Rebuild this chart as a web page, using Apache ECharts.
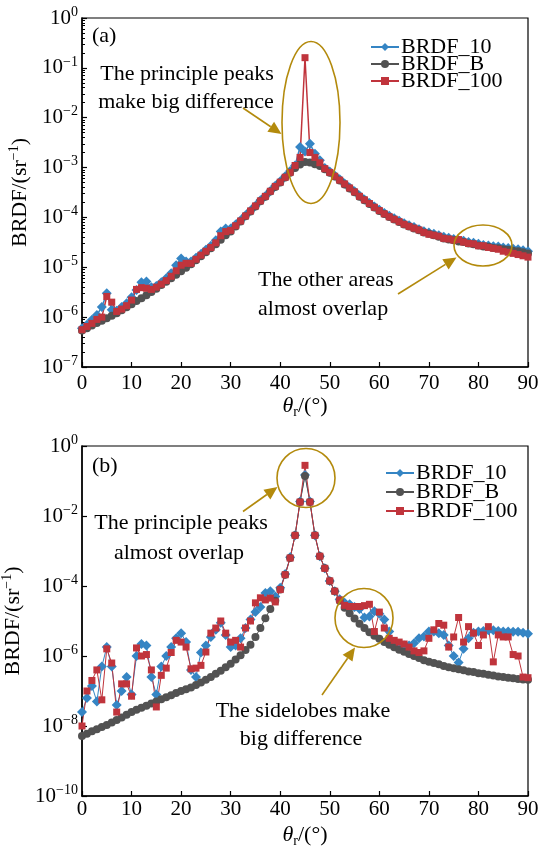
<!DOCTYPE html>
<html><head><meta charset="utf-8">
<script src="https://cdn.jsdelivr.net/npm/echarts@6/dist/echarts.min.js"></script>
<style>html,body{margin:0;padding:0;background:#fff}#c{width:541px;height:846px}</style>
</head><body><div id="c"></div>
<script>
// ---------------- data ----------------
const theta = [0,1,2,3,4,5,6,7,8,9,10,11,12,13,14,15,16,17,18,19,20,21,22,23,24,25,26,27,28,29,30,31,32,33,34,35,36,37,38,39,40,41,42,43,44,45,46,47,48,49,50,51,52,53,54,55,56,57,58,59,60,61,62,63,64,65,66,67,68,69,70,71,72,73,74,75,76,77,78,79,80,81,82,83,84,85,86,87,88,89,90];
const seriesNames = ['BRDF_10', 'BRDF_B', 'BRDF_100'];
const yTicksA = [1e-7,1e-6,1e-5,1e-4,1e-3,1e-2,1e-1,1];
const yTicksB = [1e-10,1e-8,1e-6,1e-4,1e-2,1];

// panel (a)
const a_brdf10 = [6.0e-7,7.0e-7,8.9e-7,1.1e-6,1.6e-6,3.0e-6,1.4e-6,1.35e-6,1.6e-6,1.9e-6,2.5e-6,3.5e-6,5.0e-6,5.2e-6,4.0e-6,4.2e-6,5.0e-6,6.0e-6,7.6e-6,1.1e-5,1.5e-5,1.3e-5,1.3e-5,1.55e-5,1.85e-5,2.25e-5,2.7e-5,3.5e-5,5.2e-5,6.0e-5,6.0e-5,7.2e-5,8.8e-5,1.1e-4,1.38e-4,1.72e-4,2.2e-4,2.7e-4,3.4e-4,4.3e-4,5.3e-4,6.7e-4,8.5e-4,1.1e-3,2.6e-3,2.1e-3,3.0e-3,1.9e-3,1.4e-3,9.8e-4,8.3e-4,6.9e-4,5.8e-4,4.8e-4,4.0e-4,3.35e-4,2.75e-4,2.3e-4,1.95e-4,1.66e-4,1.42e-4,1.23e-4,1.08e-4,9.6e-5,8.6e-5,7.6e-5,7.0e-5,6.4e-5,5.8e-5,5.3e-5,5.0e-5,4.7e-5,4.4e-5,4.1e-5,3.9e-5,3.7e-5,3.5e-5,3.4e-5,3.2e-5,3.1e-5,2.95e-5,2.8e-5,2.75e-5,2.65e-5,2.6e-5,2.5e-5,2.45e-5,2.35e-5,2.3e-5,2.2e-5,2.1e-5];
const a_brdfB = [5.4e-7,6.0e-7,6.8e-7,7.6e-7,8.5e-7,9.5e-7,1.07e-6,1.2e-6,1.38e-6,1.58e-6,1.82e-6,2.1e-6,2.4e-6,2.75e-6,3.2e-6,3.7e-6,4.4e-6,5.1e-6,6.0e-6,7.1e-6,8.3e-6,9.8e-6,1.15e-5,1.38e-5,1.66e-5,2.0e-5,2.4e-5,2.9e-5,3.55e-5,4.4e-5,5.2e-5,6.6e-5,8.3e-5,1.05e-4,1.32e-4,1.66e-4,2.1e-4,2.6e-4,3.3e-4,4.1e-4,5.0e-4,6.3e-4,7.9e-4,9.8e-4,1.15e-3,1.29e-3,1.26e-3,1.17e-3,1.07e-3,9.3e-4,7.9e-4,6.6e-4,5.5e-4,4.6e-4,3.8e-4,3.2e-4,2.6e-4,2.2e-4,1.86e-4,1.58e-4,1.35e-4,1.17e-4,1.02e-4,9.1e-5,8.1e-5,7.2e-5,6.6e-5,6.0e-5,5.5e-5,5.0e-5,4.7e-5,4.4e-5,4.1e-5,3.8e-5,3.6e-5,3.5e-5,3.3e-5,3.2e-5,3.0e-5,2.9e-5,2.75e-5,2.6e-5,2.57e-5,2.45e-5,2.4e-5,2.3e-5,2.24e-5,2.14e-5,2.1e-5,2.0e-5,1.9e-5];
const a_brdf100 = [5.6e-7,6.5e-7,7.5e-7,9.0e-7,1.0e-6,2.6e-6,2.0e-6,1.3e-6,1.45e-6,1.7e-6,2.2e-6,3.6e-6,3.9e-6,3.8e-6,3.6e-6,4.0e-6,4.6e-6,5.4e-6,6.6e-6,8.5e-6,1.1e-5,1.2e-5,1.2e-5,1.45e-5,1.75e-5,2.1e-5,2.5e-5,3.1e-5,4.3e-5,5.2e-5,5.5e-5,6.8e-5,8.5e-5,1.07e-4,1.35e-4,1.7e-4,2.15e-4,2.65e-4,3.35e-4,4.2e-4,5.1e-4,6.4e-4,8.0e-4,1.1e-3,1.6e-3,1.6e-1,2.0e-3,1.6e-3,1.25e-3,9.5e-4,8.0e-4,6.7e-4,5.6e-4,4.7e-4,3.9e-4,3.25e-4,2.65e-4,2.25e-4,1.9e-4,1.6e-4,1.37e-4,1.18e-4,1.03e-4,9.2e-5,8.2e-5,7.3e-5,6.6e-5,6.1e-5,5.6e-5,5.0e-5,4.6e-5,4.4e-5,4.2e-5,3.8e-5,3.7e-5,3.5e-5,3.6e-5,3.2e-5,3.0e-5,2.95e-5,2.7e-5,2.7e-5,2.5e-5,2.4e-5,2.3e-5,2.1e-5,2.0e-5,1.9e-5,1.8e-5,1.7e-5,1.6e-5];

// panel (b)
const b_brdf10 = [2.5e-8,6.3e-8,1.4e-7,5.0e-8,5.0e-7,1.8e-6,5.0e-7,4.0e-8,1.0e-7,2.5e-7,8.0e-8,1.0e-6,2.2e-6,2.0e-6,2.5e-7,8.0e-8,5.0e-7,1.0e-6,1.8e-6,3.2e-6,4.5e-6,2.5e-6,4.0e-7,2.5e-7,1.26e-6,2.0e-6,3.5e-6,5.6e-6,8.9e-6,4.0e-6,1.8e-6,2.0e-6,3.2e-6,6.3e-6,1.1e-5,1.8e-5,2.5e-5,6.3e-5,7.1e-5,5.0e-5,8.9e-5,2.2e-4,6.6e-4,2.8e-3,2.6e-2,1.48e-1,2.6e-2,2.8e-3,7.1e-4,3.2e-4,1.4e-4,7.1e-5,4.2e-5,3.3e-5,3.0e-5,2.5e-5,2.2e-5,1.26e-5,1.35e-5,1.9e-5,1.6e-5,1.1e-5,5.0e-6,2.5e-6,2.2e-6,2.0e-6,2.0e-6,2.3e-6,3.2e-6,3.6e-6,5.0e-6,5.0e-6,4.5e-6,4.0e-6,2.0e-6,1.0e-6,6.5e-7,1.6e-6,3.2e-6,4.6e-6,5.0e-6,5.2e-6,5.4e-6,5.4e-6,5.2e-6,5.0e-6,5.0e-6,4.9e-6,4.9e-6,4.6e-6,4.3e-6];
const b_brdfB = [5.2e-9,6.0e-9,7.1e-9,8.1e-9,9.3e-9,1.07e-8,1.26e-8,1.48e-8,1.74e-8,2.1e-8,2.5e-8,2.9e-8,3.3e-8,3.8e-8,4.4e-8,5.0e-8,5.8e-8,6.6e-8,7.6e-8,8.7e-8,1.0e-7,1.12e-7,1.26e-7,1.48e-7,1.74e-7,2.1e-7,2.5e-7,3.1e-7,3.8e-7,4.8e-7,6.0e-7,7.9e-7,1.05e-6,1.48e-6,2.1e-6,3.5e-6,6.3e-6,1.2e-5,2.2e-5,3.8e-5,7.9e-5,2.1e-4,6.3e-4,2.8e-3,2.5e-2,1.4e-1,2.5e-2,2.8e-3,7.1e-4,3.2e-4,1.4e-4,7.1e-5,3.8e-5,2.4e-5,1.66e-5,1.17e-5,8.3e-6,6.3e-6,4.8e-6,3.8e-6,3.1e-6,2.5e-6,2.1e-6,1.78e-6,1.51e-6,1.32e-6,1.15e-6,1.0e-6,8.7e-7,7.6e-7,6.9e-7,6.3e-7,5.8e-7,5.2e-7,4.8e-7,4.5e-7,4.2e-7,3.9e-7,3.6e-7,3.5e-7,3.2e-7,3.1e-7,2.9e-7,2.75e-7,2.6e-7,2.5e-7,2.4e-7,2.3e-7,2.2e-7,2.14e-7,2.1e-7];
const b_brdf100 = [1.0e-8,1.0e-7,2.0e-7,4.0e-7,5.6e-8,1.6e-6,6.3e-7,2.5e-8,1.6e-7,1.6e-7,7.1e-8,1.7e-6,1.0e-6,1.1e-6,4.0e-7,3.5e-8,2.8e-7,4.5e-7,1.26e-6,2.8e-6,2.5e-6,1.8e-6,4.3e-7,4.5e-7,5.4e-7,1.3e-6,4.5e-6,6.3e-6,1.0e-5,4.5e-6,2.5e-6,2.8e-6,1.8e-6,6.3e-6,1.0e-5,3.3e-5,4.6e-5,4.0e-5,4.5e-5,3.5e-5,7.9e-5,2.1e-4,6.3e-4,2.8e-3,2.5e-2,2.8e-1,2.5e-2,2.8e-3,7.1e-4,3.2e-4,1.4e-4,7.1e-5,4.0e-5,2.8e-5,2.6e-5,2.6e-5,2.6e-5,2.75e-5,3.0e-5,5.0e-6,1.8e-5,6.3e-6,3.2e-6,2.8e-6,2.5e-6,2.2e-6,1.8e-6,1.4e-6,1.26e-6,1.4e-6,3.2e-6,5.6e-6,8.5e-6,7.6e-6,1.8e-6,3.5e-6,1.26e-5,2.5e-6,6.9e-6,4.5e-6,2.0e-6,4.0e-6,6.9e-6,6.8e-7,4.0e-6,3.5e-6,3.5e-6,1.1e-6,1.0e-6,2.5e-7,2.4e-7];

// ---------------- styling ----------------
const FONT = '"Liberation Serif", "Times New Roman", serif';
const C_BLUE = '#3585c4', C_GREY = '#525252', C_RED = '#c0343c', C_ANN = '#b38a0c';

function pairs(vals){ return theta.map((t,i)=>[t, vals[i]]); }
function expLabel(v){ const e = Math.round(Math.log10(v)); return '{b|10}{s|' + (e < 0 ? '\u2212' + (-e) : e) + '}'; }
const labRich = {
  b: {fontFamily: FONT, fontSize: 21, color: '#000', lineHeight: 26},
  s: {fontFamily: FONT, fontSize: 14, color: '#000', verticalAlign: 'top', lineHeight: 14}
};
const yNameRich = {
  t: {fontFamily: FONT, fontSize: 22, color: '#000', lineHeight: 26},
  s: {fontFamily: FONT, fontSize: 14, color: '#000', verticalAlign: 'top', lineHeight: 14}
};
const xNameRich = {
  i: {fontFamily: FONT, fontSize: 22, fontStyle: 'italic', color: '#000', lineHeight: 26},
  r: {fontFamily: FONT, fontSize: 14, color: '#000', verticalAlign: 'bottom', lineHeight: 14},
  t: {fontFamily: FONT, fontSize: 22, color: '#000', lineHeight: 26}
};

const minorA = [];
for (let e = -7; e < 0; e++) for (let k = 2; k <= 9; k++) minorA.push(Number((k * Math.pow(10, e)).toPrecision(3)));

function xAxisCfg(gi, margin, gap){
  return {
    type: 'value', gridIndex: gi, min: 0, max: 90, interval: 10,
    axisLine: {show: true, onZero: false, lineStyle: {color: '#000', width: 1.5}},
    axisTick: {inside: true, length: 5, lineStyle: {color: '#000', width: 1.2}},
    splitLine: {show: false},
    axisLabel: {fontFamily: FONT, fontSize: 21, color: '#000', margin: margin},
    name: '{i|\u03b8}{r|r}{t|/(\u00b0)}', nameLocation: 'middle', nameGap: gap,
    nameTextStyle: {rich: xNameRich}
  };
}
function yAxisCfg(gi, mn, ticks){
  return {
    type: 'log', logBase: 10, gridIndex: gi, min: mn, max: 1, position: 'left',
    axisLine: {show: true, onZero: false, lineStyle: {color: '#000', width: 1.5}},
    axisTick: {inside: true, length: 5, lineStyle: {color: '#000', width: 1.2}, customValues: ticks},
    splitLine: {show: false},
    axisLabel: {formatter: expLabel, rich: labRich, margin: 4, customValues: ticks},
    name: '{t|BRDF/(sr}{s|\u22121}{t|)}', nameLocation: 'middle', nameGap: 45, nameRotate: 90,
    nameTextStyle: {rich: yNameRich}
  };
}

function mkSeries(name, vals, xi, yi, color, symbol, size, lw){
  return {
    name: name, type: 'line', xAxisIndex: xi, yAxisIndex: yi, data: pairs(vals),
    symbol: symbol, symbolSize: size, showSymbol: true,
    lineStyle: {color: color, width: lw}, itemStyle: {color: color},
    emphasis: {disabled: true}
  };
}

// ---------------- annotations (pixel layout) ----------------
function arrow(x1, y1, x2, y2){
  const dx = x2 - x1, dy = y2 - y1, L = Math.hypot(dx, dy), ux = dx / L, uy = dy / L;
  const hl = 13, hw = 6;
  const bx = x2 - ux * hl, by = y2 - uy * hl;
  return [
    {type: 'line', shape: {x1: x1, y1: y1, x2: bx, y2: by}, style: {stroke: C_ANN, lineWidth: 1.6}, silent: true},
    {type: 'polygon', shape: {points: [[x2, y2], [bx - uy * hw, by + ux * hw], [bx + uy * hw, by - ux * hw]]}, style: {fill: C_ANN}, silent: true}
  ];
}
function ell(cx, cy, rx, ry){
  return {type: 'ellipse', shape: {cx: cx, cy: cy, rx: rx, ry: ry}, style: {fill: 'none', stroke: C_ANN, lineWidth: 1.6}, silent: true, z: 100};
}
function txt(s, x, y, align){
  return {type: 'text', x: x, y: y, style: {text: s, font: '22px ' + FONT, fill: '#000', align: align || 'center', verticalAlign: 'middle'}, silent: true, z: 100};
}
const graphics = [].concat(
  [txt('(a)', 92, 36, 'left'), txt('(b)', 92, 466, 'left')],
  [ell(311, 122.5, 29, 81), ell(483, 245.5, 29, 20.5), ell(306, 478, 29, 29.5), ell(364, 618, 29, 29.5)],
  arrow(243, 108, 281.5, 134), arrow(398, 294, 456.5, 257.5),
  arrow(243, 511.5, 277.5, 487), arrow(322, 695, 355, 647.5),
  [txt('The principle peaks', 187, 74), txt('make big difference', 186, 102),
   txt('The other areas', 258, 280, 'left'), txt('almost overlap', 258, 309, 'left'),
   txt('The principle peaks', 181, 523), txt('almost overlap', 179, 553),
   txt('The sidelobes make', 303, 711), txt('big difference', 301, 739)]
);

function legendCfg(left, top, gap){
  return {
    orient: 'vertical', left: left, top: top, itemWidth: 28, itemHeight: 10, itemGap: gap,
    padding: 0, selectedMode: false,
    textStyle: {fontFamily: FONT, fontSize: 22, color: '#000', padding: [0, 0, 0, -3]},
    data: seriesNames
  };
}

const option = {
  animation: false,
  backgroundColor: '#fff',
  grid: [
    {left: 82, top: 18, width: 446, height: 349, show: true, borderColor: '#000', borderWidth: 1.2, backgroundColor: 'transparent', containLabel: false, outerBoundsMode: 'none'},
    {left: 82, top: 446, width: 446, height: 350, show: true, borderColor: '#000', borderWidth: 1.2, backgroundColor: 'transparent', containLabel: false, outerBoundsMode: 'none'}
  ],
  legend: [legendCfg(370, 36, -5), legendCfg(385, 462, -3)],
  xAxis: [xAxisCfg(0, 6, 24), xAxisCfg(1, 3, 26)],
  yAxis: [
    yAxisCfg(0, 1e-7, yTicksA),
    {type: 'log', logBase: 10, gridIndex: 0, min: 1e-7, max: 1, position: 'left', offset: 0,
     axisLine: {show: false}, axisLabel: {show: false}, splitLine: {show: false},
     axisTick: {inside: true, length: 3, lineStyle: {color: '#000', width: 1}, customValues: minorA}},
    yAxisCfg(1, 1e-10, yTicksB)
  ],
  series: [
    mkSeries(seriesNames[0], a_brdf10, 0, 0, C_BLUE, 'diamond', 10, 1.5),
    mkSeries(seriesNames[1], a_brdfB, 0, 0, C_GREY, 'circle', 8, 1.5),
    mkSeries(seriesNames[2], a_brdf100, 0, 0, C_RED, 'rect', 7, 1.5),
    mkSeries(seriesNames[0], b_brdf10, 1, 2, C_BLUE, 'diamond', 10, 1),
    mkSeries(seriesNames[1], b_brdfB, 1, 2, C_GREY, 'circle', 8, 1),
    mkSeries(seriesNames[2], b_brdf100, 1, 2, C_RED, 'rect', 7, 1)
  ],
  graphic: graphics
};
const chart = echarts.init(document.getElementById('c'), null, {renderer: 'canvas'});
chart.setOption(option);
</script>
</body></html>
